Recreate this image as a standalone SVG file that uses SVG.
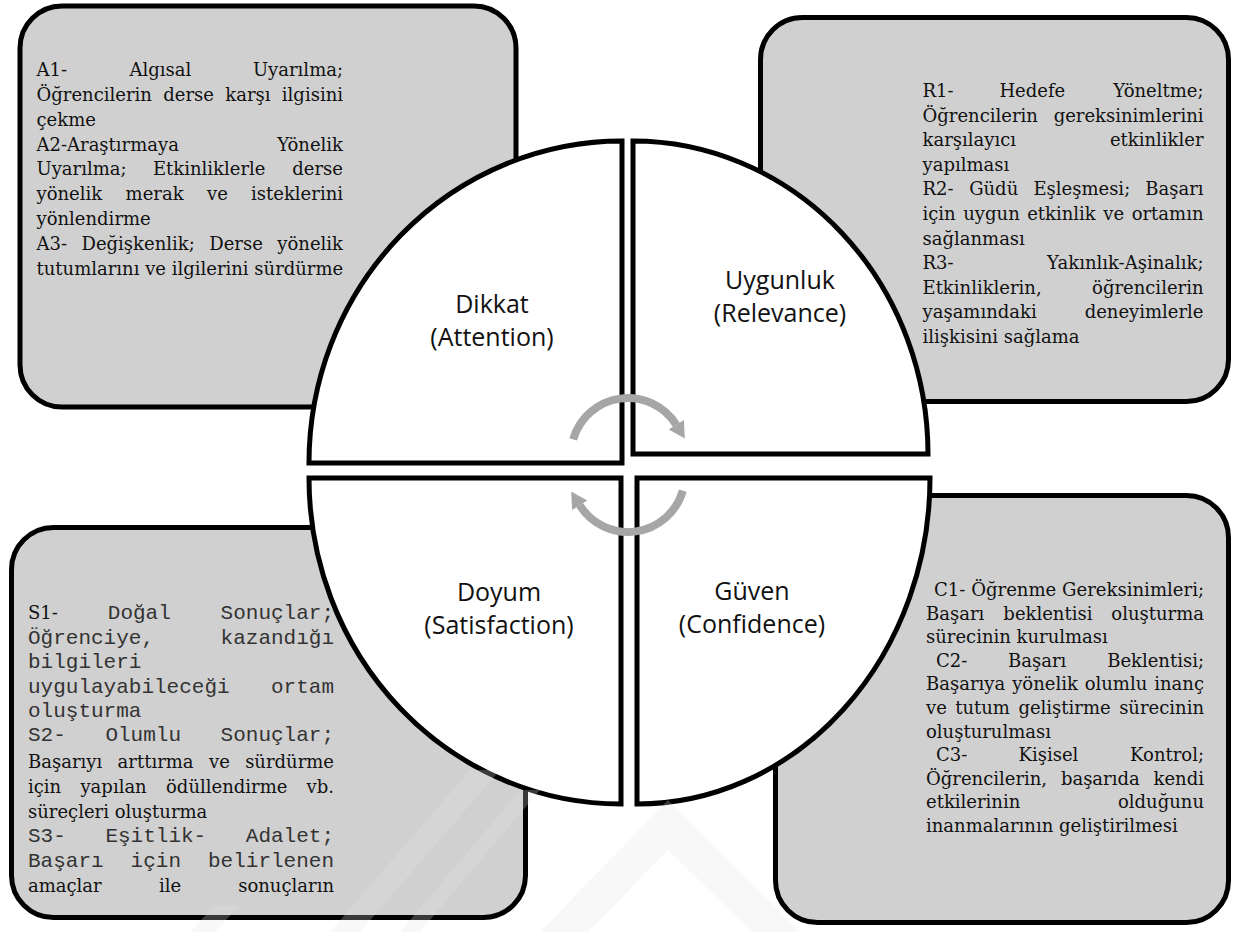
<svg xmlns="http://www.w3.org/2000/svg" width="1242" height="932" viewBox="0 0 1242 932">
<style>
.box{fill:#d0d0d0;stroke:#000;stroke-width:5}
.q{fill:#fff;stroke:#000;stroke-width:5;stroke-linejoin:miter}
.s{font-family:"DejaVu Serif","Liberation Serif",serif;font-size:18px;fill:#111}
.m{font-family:"Liberation Mono","DejaVu Sans Mono",monospace;font-size:21px;fill:#333}
.lab{font-family:"Open Sans","Noto Sans",sans-serif;font-size:25px;fill:#111;text-anchor:middle}
.c{text-anchor:middle}
.e{text-anchor:end}
.arc{fill:none;stroke:#a6a6a6;stroke-width:8}
.head{fill:#a6a6a6}
.wm{fill:#e4e4e4;opacity:0.25}
</style>
<rect width="1242" height="932" fill="#fff"/>

<g id="box-attention">
<rect class="box" x="20" y="6" width="496" height="401" rx="42"/>
<text class="s" x="36.5" y="76">A1-</text><text class="s c" x="160.3" y="76">Algısal</text><text class="s e" x="343" y="76">Uyarılma;</text>
<text class="s" x="36.5" y="101">Öğrencilerin</text><text class="s c" x="188.6" y="101">derse</text><text class="s c" x="247.9" y="101">karşı</text><text class="s e" x="343" y="101">ilgisini</text>
<text class="s" x="36.5" y="125.7">çekme</text>
<text class="s" x="36.5" y="150.5">A2-Araştırmaya</text><text class="s e" x="343" y="150.5">Yönelik</text>
<text class="s" x="36.5" y="175.4">Uyarılma;</text><text class="s c" x="209.2" y="175.4">Etkinliklerle</text><text class="s e" x="343" y="175.4">derse</text>
<text class="s" x="36.5" y="200.2">yönelik</text><text class="s c" x="154.6" y="200.2">merak</text><text class="s c" x="217.4" y="200.2">ve</text><text class="s e" x="343" y="200.2">isteklerini</text>
<text class="s" x="36.5" y="225.1">yönlendirme</text>
<text class="s" x="36.5" y="250">A3-</text><text class="s c" x="138.1" y="250">Değişkenlik;</text><text class="s c" x="236" y="250">Derse</text><text class="s e" x="343" y="250">yönelik</text>
<text class="s" x="36.5" y="274.8">tutumlarını ve ilgilerini sürdürme</text>
</g>

<g id="box-relevance">
<rect class="box" x="760.5" y="17.5" width="468" height="384" rx="42"/>
<text class="s" x="922.5" y="97">R1-</text><text class="s c" x="1032.3" y="97">Hedefe</text><text class="s e" x="1203.5" y="97">Yöneltme;</text>
<text class="s" x="922.5" y="121.6">Öğrencilerin</text><text class="s e" x="1203.5" y="121.6">gereksinimlerini</text>
<text class="s" x="922.5" y="146.2">karşılayıcı</text><text class="s e" x="1203.5" y="146.2">etkinlikler</text>
<text class="s" x="922.5" y="170.8">yapılması</text>
<text class="s" x="922.5" y="195.4">R2-</text><text class="s c" x="993.7" y="195.4">Güdü</text><text class="s c" x="1081.8" y="195.4">Eşleşmesi;</text><text class="s e" x="1203.5" y="195.4">Başarı</text>
<text class="s" x="922.5" y="220">için</text><text class="s c" x="991.5" y="220">uygun</text><text class="s c" x="1061.5" y="220">etkinlik</text><text class="s c" x="1113.7" y="220">ve</text><text class="s e" x="1203.5" y="220">ortamın</text>
<text class="s" x="922.5" y="244.6">sağlanması</text>
<text class="s" x="922.5" y="269.2">R3-</text><text class="s e" x="1203.5" y="269.2">Yakınlık-Aşinalık;</text>
<text class="s" x="922.5" y="293.8">Etkinliklerin,</text><text class="s e" x="1203.5" y="293.8">öğrencilerin</text>
<text class="s" x="922.5" y="318.4">yaşamındaki</text><text class="s e" x="1203.5" y="318.4">deneyimlerle</text>
<text class="s" x="922.5" y="343">ilişkisini sağlama</text>
</g>

<g id="box-satisfaction">
<rect class="box" x="11.5" y="527.5" width="514" height="390" rx="42"/>
<text class="s" x="28" y="619">S1-</text><text class="m c" x="139.3" y="619">Doğal</text><text class="m e" x="334" y="619">Sonuçlar;</text>
<text class="m" x="28" y="643.5">Öğrenciye,</text><text class="m e" x="334" y="643.5">kazandığı</text>
<text class="m" x="28" y="668">bilgileri</text>
<text class="m" x="28" y="692.5">uygulayabileceği</text><text class="m e" x="334" y="692.5">ortam</text>
<text class="m" x="28" y="716.5">oluşturma</text>
<text class="m" x="28" y="741">S2-</text><text class="m c" x="143.2" y="741">Olumlu</text><text class="m e" x="334" y="741">Sonuçlar;</text>
<text class="s" x="28" y="767.5">Başarıyı</text><text class="s c" x="155.6" y="767.5">arttırma</text><text class="s c" x="219.4" y="767.5">ve</text><text class="s e" x="334" y="767.5">sürdürme</text>
<text class="s" x="28" y="792.5">için</text><text class="s c" x="113.6" y="792.5">yapılan</text><text class="s c" x="226.7" y="792.5">ödüllendirme</text><text class="s e" x="334" y="792.5">vb.</text>
<text class="s" x="28" y="818">süreçleri oluşturma</text>
<text class="m" x="28" y="842">S3-</text><text class="m c" x="155.8" y="842">Eşitlik-</text><text class="m e" x="334" y="842">Adalet;</text>
<text class="m" x="28" y="866.5">Başarı</text><text class="m c" x="155.8" y="866.5">için</text><text class="m e" x="334" y="866.5">belirlenen</text>
<text class="s" x="28" y="891.5">amaçlar</text><text class="s c" x="170" y="891.5">ile</text><text class="s e" x="334" y="891.5">sonuçların</text>
</g>

<g id="box-confidence">
<rect class="box" x="775.5" y="495.5" width="453" height="427" rx="42"/>
<text class="s" x="934" y="596" textLength="270" lengthAdjust="spacingAndGlyphs">C1- Öğrenme Gereksinimleri;</text>
<text class="s" x="926" y="619.6">Başarı</text><text class="s c" x="1047.9" y="619.6">beklentisi</text><text class="s e" x="1204" y="619.6">oluşturma</text>
<text class="s" x="926" y="643.2">sürecinin kurulması</text>
<text class="s" x="936" y="666.8">C2-</text><text class="s c" x="1037.2" y="666.8">Başarı</text><text class="s e" x="1204" y="666.8">Beklentisi;</text>
<text class="s" x="926" y="690.4">Başarıya</text><text class="s c" x="1045" y="690.4">yönelik</text><text class="s c" x="1116" y="690.4">olumlu</text><text class="s e" x="1204" y="690.4">inanç</text>
<text class="s" x="926" y="714">ve</text><text class="s c" x="982.6" y="714">tutum</text><text class="s c" x="1064.5" y="714">geliştirme</text><text class="s e" x="1204" y="714">sürecinin</text>
<text class="s" x="926" y="737.6">oluşturulması</text>
<text class="s" x="936" y="761.2">C3-</text><text class="s c" x="1048.4" y="761.2">Kişisel</text><text class="s e" x="1204" y="761.2">Kontrol;</text>
<text class="s" x="926" y="784.8">Öğrencilerin,</text><text class="s c" x="1100.3" y="784.8">başarıda</text><text class="s e" x="1204" y="784.8">kendi</text>
<text class="s" x="926" y="808.4">etkilerinin</text><text class="s e" x="1204" y="808.4">olduğunu</text>
<text class="s" x="926" y="832">inanmalarının geliştirilmesi</text>
</g>

<g id="quad-attention">
<path class="q" d="M622,463 L309,463 A313,322 0 0 1 622,141 Z"/>
<text class="lab" x="492" y="313">Dikkat</text>
<text class="lab" x="492" y="346">(Attention)</text>
</g>
<g id="quad-relevance">
<path class="q" d="M633,454 L633,141 A295,313 0 0 1 928,454 Z"/>
<text class="lab" x="780" y="289">Uygunluk</text>
<text class="lab" x="780" y="322">(Relevance)</text>
</g>
<g id="quad-satisfaction">
<path class="q" d="M621,478 L621,804 A312,326 0 0 1 309,478 Z"/>
<text class="lab" x="499" y="601">Doyum</text>
<text class="lab" x="499" y="634">(Satisfaction)</text>
</g>
<g id="quad-confidence">
<path class="q" d="M637,478 L930,478 A293,326 0 0 1 637,804 Z"/>
<text class="lab" x="752" y="600">Güven</text>
<text class="lab" x="752" y="633">(Confidence)</text>
</g>

<g id="connectors">
<path class="arc" d="M573.2,439.3 A57,57 0 0 1 676.3,424.8"/>
<polygon class="head" points="683.9,420 668.7,429.6 684.8,438.4"/>
<path class="arc" d="M682.8,490.7 A57,57 0 0 1 579.7,505.2"/>
<polygon class="head" points="572.1,510 587.3,500.4 571.2,491.6"/>
</g>

<g id="watermark">
<path class="wm" fill-rule="evenodd" d="M540,932 L668,800 L800,932 Z M588,932 L668,850 L752,932 Z"/>
<polygon class="wm" points="330,932 470,770 500,770 360,932"/>
<polygon class="wm" points="400,932 520,790 540,790 420,932"/>
<polygon class="wm" points="190,932 215,905 240,905 215,932"/>
</g>
</svg>
